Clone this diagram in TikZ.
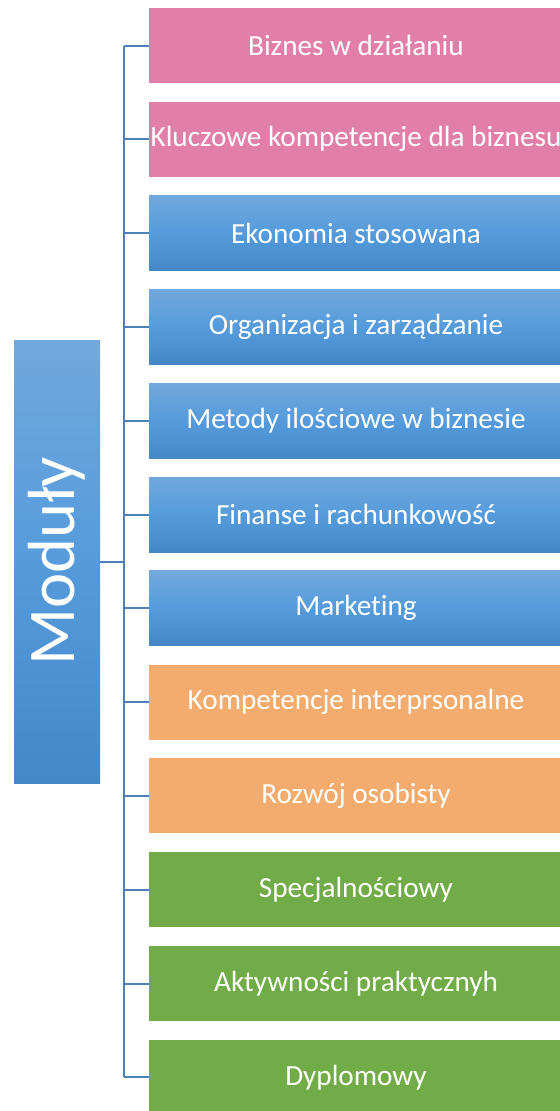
\documentclass[tikz,border=0pt]{standalone}
\usepackage{fontspec}
\setmainfont{Carlito}[Ligatures=NoCommon]
\usepackage{tikz}
\usetikzlibrary{positioning}
\definecolor{pinkmod}{HTML}{E27FA9}
\definecolor{orangemod}{HTML}{F4AB6E}
\definecolor{greenmod}{HTML}{71AC48}
\definecolor{bluetop}{HTML}{72A8DC}
\definecolor{bluemid}{HTML}{559BDC}
\definecolor{bluebot}{HTML}{4588C8}
\definecolor{connline}{HTML}{4E80B8}
\tikzset{
	modbox/.style={minimum width=310.5pt, minimum height=56.25pt, inner sep=0pt, text=white, font=\fontsize{21.9pt}{24pt}\selectfont},
	pinkbox/.style={modbox, fill=pinkmod},
	bluebox/.style={modbox, top color=bluetop, bottom color=bluebot, middle color=bluemid},
	orangebox/.style={modbox, fill=orangemod},
	greenbox/.style={modbox, fill=greenmod},
	conn/.style={connline, line width=1.5pt}
}

\begin{document}
\begin{tikzpicture}[x=0.75pt, y=0.75pt]
	\useasboundingbox (0,0) rectangle (560,-1111);
	\node[minimum width=64.5pt, minimum height=332.25pt, inner sep=0pt, top color=bluetop, bottom color=bluebot, middle color=bluemid, text=white, font=\fontsize{50pt}{50pt}\selectfont] (root) at (57,-561.5) {\rotatebox{90}{Moduły}};
	\node[pinkbox] (m1) at (356,-45.5) {Biznes w działaniu};
	\node[pinkbox] (m2) at (356,-139.3) {Kluczowe kompetencje dla biznesu};
	\node[bluebox] (m3) at (356,-233.1) {Ekonomia stosowana};
	\node[bluebox] (m4) at (356,-326.9) {Organizacja i zarządzanie};
	\node[bluebox] (m5) at (356,-420.7) {Metody ilościowe w biznesie};
	\node[bluebox] (m6) at (356,-514.5) {Finanse i rachunkowość};
	\node[bluebox] (m7) at (356,-608.3) {Marketing};
	\node[orangebox] (m8) at (356,-702.1) {Kompetencje interprsonalne};
	\node[orangebox] (m9) at (356,-795.9) {Rozwój osobisty};
	\node[greenbox] (m10) at (356,-889.7) {Specjalnościowy};
	\node[greenbox] (m11) at (356,-983.5) {Aktywności praktycznyh};
	\node[greenbox] (m12) at (356,-1077.3) {Dyplomowy};
	\coordinate (spine) at (124,-561.5);
	\draw[conn] (root.east) -- (spine);
	\draw[conn] (spine |- m1.west) -- (spine |- m12.west);
	\draw[conn] (spine |- m1.west) -- (m1.west);
	\draw[conn] (spine |- m2.west) -- (m2.west);
	\draw[conn] (spine |- m3.west) -- (m3.west);
	\draw[conn] (spine |- m4.west) -- (m4.west);
	\draw[conn] (spine |- m5.west) -- (m5.west);
	\draw[conn] (spine |- m6.west) -- (m6.west);
	\draw[conn] (spine |- m7.west) -- (m7.west);
	\draw[conn] (spine |- m8.west) -- (m8.west);
	\draw[conn] (spine |- m9.west) -- (m9.west);
	\draw[conn] (spine |- m10.west) -- (m10.west);
	\draw[conn] (spine |- m11.west) -- (m11.west);
	\draw[conn] (spine |- m12.west) -- (m12.west);
\end{tikzpicture}
\end{document}
